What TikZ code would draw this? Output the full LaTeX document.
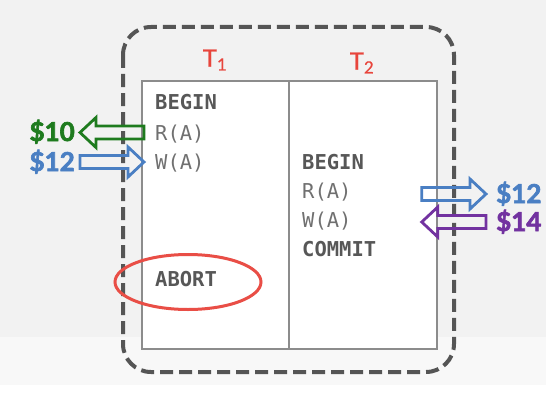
\documentclass[tikz,border=0pt]{standalone}
\usepackage{fontspec}
\setmainfont{Lato}
\setsansfont{Lato}
\setmonofont{DejaVu Sans Mono}
\newfontfamily\valuefont{Lato}[UprightFeatures={FakeBold=2.5}, BoldFeatures={FakeBold=2.5}]
\newfontfamily\labelfont{Lato}[FakeBold=0.6]
\usetikzlibrary{calc,shapes.geometric}
\definecolor{txred}{HTML}{E8453C}
\definecolor{txgreen}{HTML}{1E7B1E}
\definecolor{txblue}{HTML}{4A7FC3}
\definecolor{txpurple}{HTML}{7232A0}
\definecolor{opgray}{HTML}{575757}
\definecolor{framegray}{HTML}{555555}
\definecolor{bgtop}{HTML}{F2F2F2}
\definecolor{bgmid}{HTML}{F8F8F8}
\tikzset{
  op/.style={anchor=west, inner sep=0pt, text height=15pt, text depth=0pt,
    text=opgray!85, font=\ttfamily\fontsize{20.5}{24}\selectfont},
  opkey/.style={op, text=opgray, font=\ttfamily\bfseries\fontsize{20.5}{24}\selectfont},
  value/.style={inner sep=0pt, text height=18pt, text depth=0pt,
    font=\valuefont\bfseries\fontsize{26}{30}\selectfont},
  txcol/.style={draw=gray!90, line width=1.5pt, fill=white, inner sep=0pt, minimum height=268pt},
  tlabel/.style={text=txred, font=\labelfont\fontsize{24}{27}\selectfont},
  fatline/.style={line width=2.8pt, line join=miter},
}
\newcommand\fatarrow[3]{%
  \draw[fatline,#1] let \p1=#2, \p2=#3, \n1={sign(\x2-\x1)}, \n2={0.5*(\y1+\y2)} in
    (\x1,{\n2+6.5pt}) -- ({\x2-(\n1)*16pt},{\n2+6.5pt}) -- ({\x2-(\n1)*16pt},{\n2+15pt})
    -- (\x2,\n2) -- ({\x2-(\n1)*16pt},{\n2-15pt}) -- ({\x2-(\n1)*16pt},{\n2-6.5pt})
    -- (\x1,{\n2-6.5pt}) -- cycle;}
\begin{document}
\begin{tikzpicture}[x=1pt,y=-1pt]
\useasboundingbox (0,0) rectangle (546,412);
% background
\fill[white] (0,0) rectangle (546,412);
\fill[bgtop] (0,0) rectangle (546,337);
\fill[bgmid] (0,337) rectangle (546,385);
% schedule frame
\draw[framegray, line width=4pt, dash pattern=on 13pt off 6pt, rounded corners=28pt]
  (123,27) rectangle (454,372);
\node[txcol, minimum width=147pt] (c1) at (215.5,215) {};
\node[txcol, minimum width=148pt] (c2) at (363,215) {};
\node[tlabel] (t1) at (215,60) {T\textsubscript{1}};
\node[tlabel] (t2) at (362,63) {T\textsubscript{2}};
% T1
\node[opkey] (b1) at (155,102) {BEGIN};
\node[op] (r1) at (155,133) {R(A)};
\node[op] (w1) at (155,162) {W(A)};
\node[opkey] (ab) at (155,279) {ABORT};
% T2
\node[opkey] (b2) at (302,162) {BEGIN};
\node[op] (r2) at (302,191) {R(A)};
\node[op] (w2) at (302,220) {W(A)};
\node[opkey] (cm) at (302,249) {COMMIT};
\node[draw=txred!95, line width=3pt, ellipse, inner sep=0pt,
  minimum width=146pt, minimum height=55pt] (ring) at (188,282) {};
% values
\node[value, text=txgreen, anchor=east] (v10) at (75,132) {\$10};
\node[value, text=txblue, anchor=east] (v12a) at (75,162) {\$12};
\node[value, text=txblue, anchor=west] (v12b) at (496,194) {\$12};
\node[value, text=txpurple, anchor=west] (v14) at (496,222) {\$14};
\fatarrow{txgreen}{($(r1.west)+(-11,0)$)}{($(v10.east)+(5,0)$)}
\fatarrow{txblue}{($(v12a.east)+(5,0)$)}{($(w1.west)+(-11,0)$)}
\fatarrow{txblue}{($(c2.east |- v12b)+(-16,0)$)}{($(v12b.west)+(-10,0)$)}
\fatarrow{txpurple}{($(v14.west)+(-10,0)$)}{($(c2.east |- v14)+(-16,0)$)}
\end{tikzpicture}
\end{document}
